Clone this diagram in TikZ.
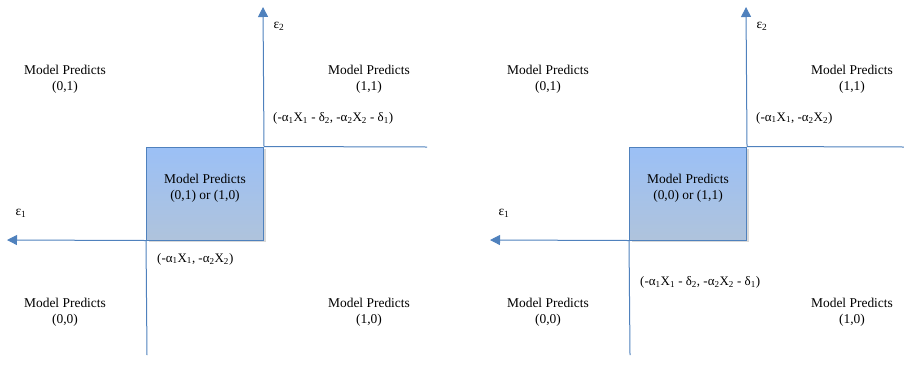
\documentclass[tikz,border=0pt]{standalone}
\usepackage{fontspec}
\setmainfont{Liberation Serif}
\usetikzlibrary{arrows.meta,shadows}
\definecolor{axisblue}{HTML}{4F81BD}
\definecolor{boxtop}{HTML}{9BC0F6}
\definecolor{boxbot}{HTML}{AFC3DC}
\tikzset{
  axis/.style={draw=axisblue,line width=1bp},
  axisarrow/.style={axis,-{Triangle[length=10bp,width=10bp]}},
  region/.style={
    draw=axisblue,line width=1bp,top color=boxtop,bottom color=boxbot,
    minimum width=117bp,minimum height=93bp,inner sep=0pt,
    drop shadow={opacity=0.3,shadow xshift=2bp,shadow yshift=-2bp}
  },
  pred/.style={align=center,inner sep=0pt},
  corner/.style={anchor=west,inner sep=0pt,font=\fontsize{13}{16}\selectfont},
  every node/.style={font=\fontsize{13.5}{16}\selectfont}
}

\begin{document}
\begin{tikzpicture}[x=1bp,y=-1bp]
\useasboundingbox (0,0) rectangle (904,364);

% left panel
\node[region] (boxA) at (205,193.5) {};
\node[pred] (boxtxtA) at (205,188) {Model Predicts\\(0,1) or (1,0)};
\coordinate (upA) at (263,7);
\coordinate (rightA) at (427,147);
\coordinate (leftA) at (7,240);
\coordinate (downA) at (147,355);
\draw[axisarrow] (boxA.north east) -- (upA);
\draw[axis] (boxA.north east) -- (rightA);
\draw[axisarrow] (boxA.south west) -- (leftA);
\draw[axis] (boxA.south west) -- (downA);

\node (epsBA) at (279,26) {ε\textsubscript{2}};
\node (epsAA) at (21,213) {ε\textsubscript{1}};

\node[pred] (nwA) at (65,79) {Model Predicts\\(0,1)};
\node[pred] (neA) at (369,79) {Model Predicts\\(1,1)};
\node[pred] (swA) at (65,312) {Model Predicts\\(0,0)};
\node[pred] (seA) at (369,312) {Model Predicts\\(1,0)};

\node[corner] (hiA) at (273,118) {(-α\textsubscript{1}X\textsubscript{1} - δ\textsubscript{2}, -α\textsubscript{2}X\textsubscript{2} - δ\textsubscript{1})};
\node[corner] (loA) at (157,259) {(-α\textsubscript{1}X\textsubscript{1}, -α\textsubscript{2}X\textsubscript{2})};

% right panel
\begin{scope}[xshift=483bp]
\node[region] (boxB) at (205,193.5) {};
\node[pred] (boxtxtB) at (205,188) {Model Predicts\\(0,0) or (1,1)};
\coordinate (upB) at (263,7);
\coordinate (rightB) at (421,147);
\coordinate (leftB) at (7,240);
\coordinate (downB) at (147,355);
\draw[axisarrow] (boxB.north east) -- (upB);
\draw[axis] (boxB.north east) -- (rightB);
\draw[axisarrow] (boxB.south west) -- (leftB);
\draw[axis] (boxB.south west) -- (downB);

\node (epsBB) at (279,26) {ε\textsubscript{2}};
\node (epsAB) at (21,213) {ε\textsubscript{1}};

\node[pred] (nwB) at (65,79) {Model Predicts\\(0,1)};
\node[pred] (neB) at (369,79) {Model Predicts\\(1,1)};
\node[pred] (swB) at (65,312) {Model Predicts\\(0,0)};
\node[pred] (seB) at (369,312) {Model Predicts\\(1,0)};

\node[corner] (hiB) at (273,118) {(-α\textsubscript{1}X\textsubscript{1}, -α\textsubscript{2}X\textsubscript{2})};
\node[corner] (loB) at (157,282) {(-α\textsubscript{1}X\textsubscript{1} - δ\textsubscript{2}, -α\textsubscript{2}X\textsubscript{2} - δ\textsubscript{1})};
\end{scope}

\end{tikzpicture}
\end{document}
